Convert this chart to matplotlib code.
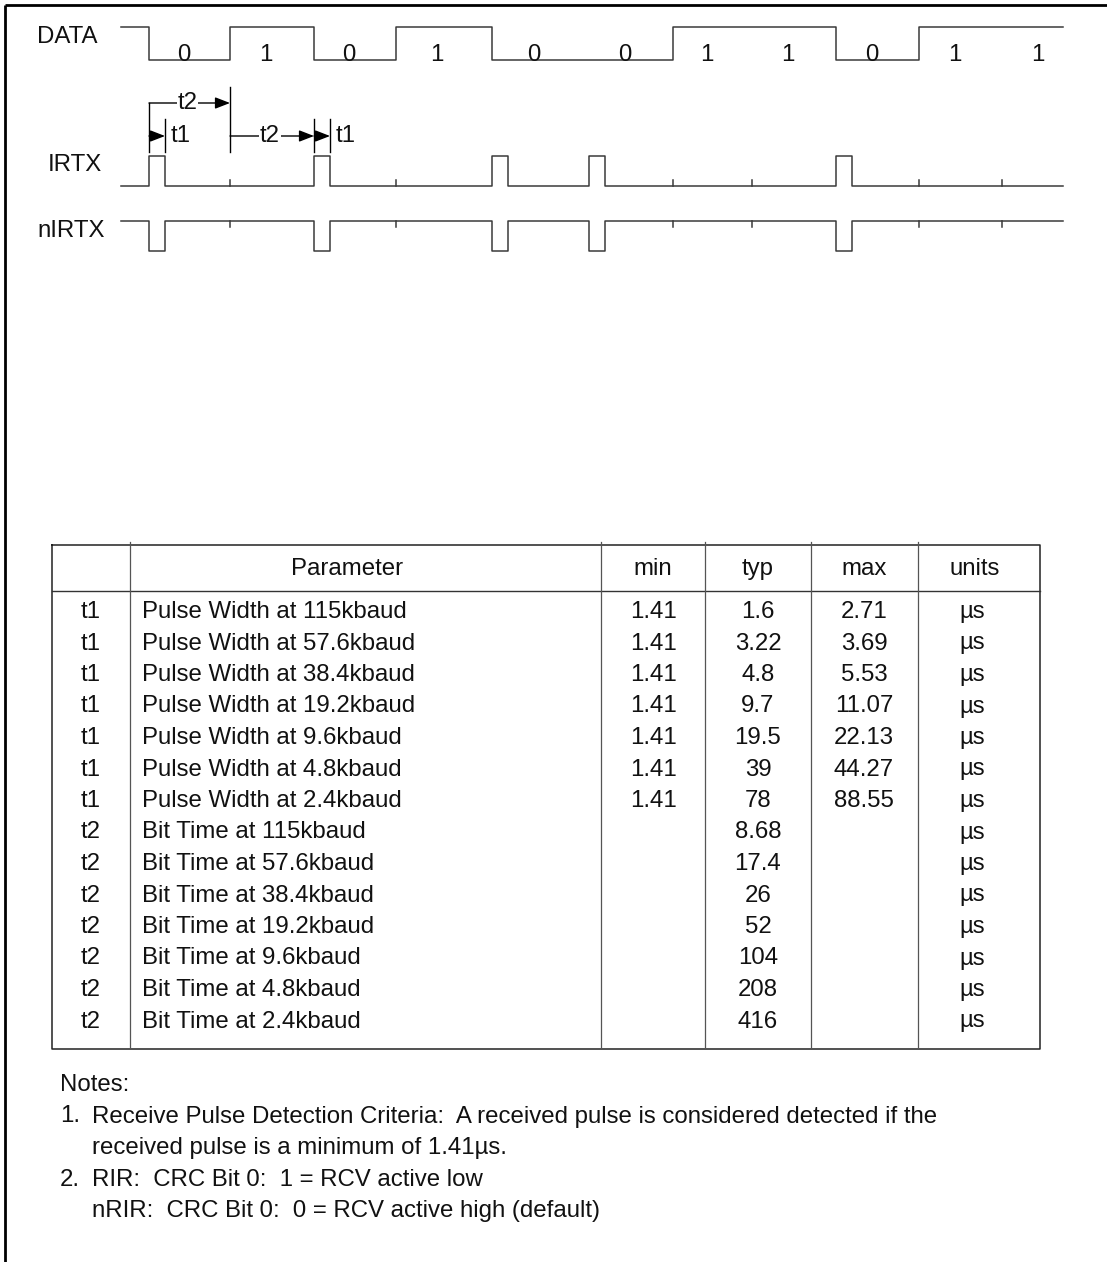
import matplotlib
matplotlib.use("Agg")
import matplotlib.pyplot as plt

plt.rcParams["font.family"] = ["Liberation Sans", "DejaVu Sans"]

# ---- timing diagram data (time axis) --------------------------------------
bits = [0, 1, 0, 1, 0, 0, 1, 1, 0, 1, 1]
bit_edges = [149, 230, 314, 396, 492, 589, 673, 752, 836, 919, 1002]
t_idle, t_end = 121, 1063
t1_width = 16

# ---- table data -------------------------------------------------------------
rates = ["115", "57.6", "38.4", "19.2", "9.6", "4.8", "2.4"]
symbols = ["t1"] * 7 + ["t2"] * 7
params = [f"Pulse Width at {r}kbaud" for r in rates] + \
         [f"Bit Time at {r}kbaud" for r in rates]
v_min = ["1.41"] * 7 + [""] * 7
v_typ = ["1.6", "3.22", "4.8", "9.7", "19.5", "39", "78",
         "8.68", "17.4", "26", "52", "104", "208", "416"]
v_max = ["2.71", "3.69", "5.53", "11.07", "22.13", "44.27", "88.55"] + [""] * 7
units = ["\u00b5s"] * 14
headers = ["", "Parameter", "min", "typ", "max", "units"]

notes = [("", "Notes:"),
         ("1.", "Receive Pulse Detection Criteria:  A received pulse is considered detected if the"),
         ("", "received pulse is a minimum of 1.41\u00b5s."),
         ("2.", "RIR:  CRC Bit 0:  1 = RCV active low"),
         ("", "nRIR:  CRC Bit 0:  0 = RCV active high (default)")]

# ---- canvas: one axes in pixel units ----------------------------------------
W, H = 1107, 1262
fig = plt.figure(figsize=(W / 100, H / 100), dpi=100)
ax = fig.add_axes([0, 0, 1, 1])
ax.set_xlim(0, W); ax.set_ylim(H, 0); ax.axis("off")

FS = 17.3
WAVE = dict(color="#3a3a3a", lw=1.1)
INK = "#111111"

# page frame (top + left only)
ax.plot([5, W], [5, 5], color="black", lw=2.0, solid_capstyle="butt")
ax.plot([5, 5], [5, H], color="black", lw=2.0, solid_capstyle="butt")

# ---- DATA ---------------------------------------------------------------------
hi, lo = 27, 60
xs, ys = [t_idle], [hi]
for e, b in zip(bit_edges, bits):
    xs.append(e); ys.append(hi if b else lo)
xs.append(t_end); ys.append(ys[-1])
ax.plot(xs, ys, drawstyle="steps-post", **WAVE)
ends = bit_edges + [1085]
for i, b in enumerate(bits):
    xc = ends[i] + 0.43 * (ends[i + 1] - ends[i])
    ax.text(xc, 61, str(b), ha="center", va="baseline", fontsize=FS, color=INK)
ax.text(37, 37, "DATA", ha="left", va="center", fontsize=FS, color=INK)

# ---- IRTX / nIRTX -------------------------------------------------------------
def pulse_train(base, peak, tick):
    xs, ys = [t_idle], [base]
    for e, b in zip(bit_edges, bits):
        if b == 0:
            xs += [e, e, e + t1_width, e + t1_width]
            ys += [base, peak, peak, base]
        else:
            ax.plot([e, e], [base, base + tick], **WAVE)
    xs.append(t_end); ys.append(base)
    ax.plot(xs, ys, **WAVE)

pulse_train(186, 156, -6)
pulse_train(221, 251, 6)
ax.text(48, 165, "IRTX", ha="left", va="center", fontsize=FS, color=INK)
ax.text(37, 231, "nIRTX", ha="left", va="center", fontsize=FS, color=INK)

# ---- t1 / t2 annotation -------------------------------------------------------
ARW = dict(arrowstyle="-|>,head_length=0.9,head_width=0.35", color="black", lw=1.0,
           shrinkA=0, shrinkB=0)
p0, b1, p1 = bit_edges[0], bit_edges[1], bit_edges[2]
for x, y0 in [(p0, 103), (p0 + t1_width, 119), (b1, 87), (p1, 119), (p1 + t1_width, 119)]:
    ax.plot([x, x], [y0, 152], color="black", lw=1.0)
ax.annotate("", xy=(b1, 103), xytext=(p0, 103), arrowprops=ARW)
ax.annotate("", xy=(p0 + t1_width, 136), xytext=(p0, 136), arrowprops=ARW)
ax.annotate("", xy=(p1, 136), xytext=(b1, 136), arrowprops=ARW)
ax.annotate("", xy=(p1 + t1_width, 136), xytext=(p1, 136), arrowprops=ARW)
box = dict(facecolor="white", edgecolor="none", pad=0.5)
ax.text((p0 + b1) / 2 - 2, 103, "t2", ha="center", va="center", fontsize=FS, color=INK, bbox=box)
ax.text((b1 + p1) / 2 - 2, 136, "t2", ha="center", va="center", fontsize=FS, color=INK, bbox=box)
ax.text(p0 + t1_width + 6, 136, "t1", ha="left", va="center", fontsize=FS, color=INK)
ax.text(p1 + t1_width + 6, 136, "t1", ha="left", va="center", fontsize=FS, color=INK)

# ---- table ------------------------------------------------------------------
cols = [52, 130, 601, 705, 811, 918, 1040]
top, head_bot, bot = 545, 591, 1049
row0, dy = 612, 31.5
ax.plot([cols[0], cols[-1], cols[-1], cols[0], cols[0]], [top, top, bot, bot, top],
        color="#222222", lw=1.1)
ax.plot([cols[0], cols[-1]], [head_bot, head_bot], color="#333333", lw=1.0)
for x in cols[1:-1]:
    ax.plot([x, x], [top - 3, bot - 2], color="#555555", lw=0.9)

head_x = [91, 347, 653, 758, 864, 975]
for x, h in zip(head_x, headers):
    ax.text(x, 569, h, ha="center", va="center", fontsize=FS, color=INK)

for i in range(len(symbols)):
    y = row0 + i * dy
    ax.text(91, y, symbols[i], ha="center", va="center", fontsize=FS, color=INK)
    ax.text(142, y, params[i], ha="left", va="center", fontsize=FS, color=INK)
    ax.text(653, y, v_min[i], ha="center", va="center", fontsize=FS, color=INK)
    ax.text(758, y, v_typ[i], ha="center", va="center", fontsize=FS, color=INK)
    ax.text(864, y, v_max[i], ha="center", va="center", fontsize=FS, color=INK)
    ax.text(972, y, units[i], ha="center", va="center", fontsize=FS, color=INK)

# ---- notes --------------------------------------------------------------------
for i, (num, txt) in enumerate(notes):
    y = 1085 + i * 31.5
    if num:
        ax.text(60, y, num, ha="left", va="center", fontsize=FS, color=INK)
    ax.text(60 if txt == "Notes:" else 92, y, txt, ha="left", va="center",
            fontsize=FS, color=INK)

fig.savefig("out.png", dpi=100)
